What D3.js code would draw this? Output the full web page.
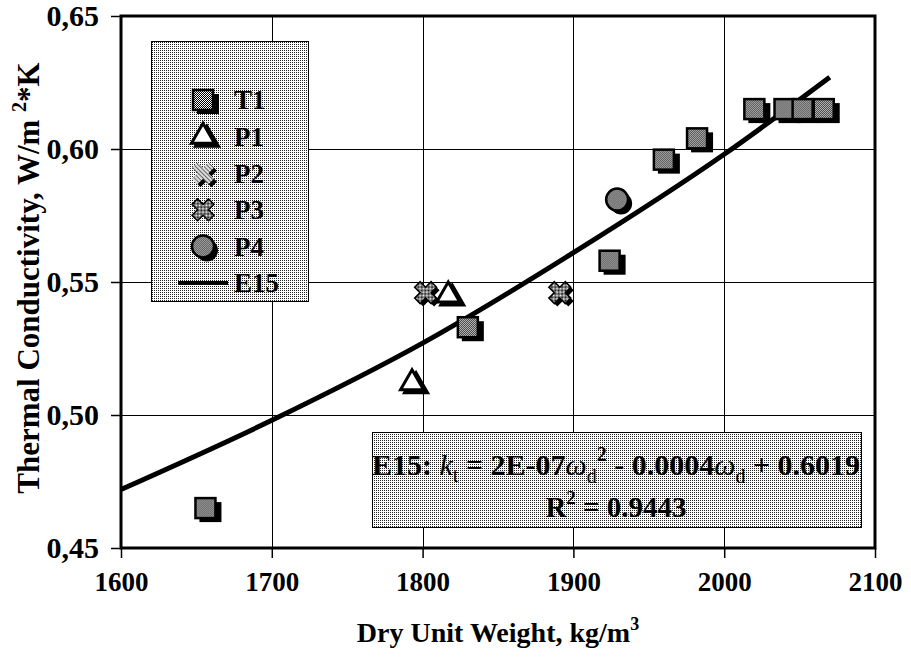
<!DOCTYPE html>
<html>
<head>
<meta charset="utf-8">
<script src="https://cdn.jsdelivr.net/npm/d3@7"></script>
<style>
  body { margin: 0; background: #fff; }
  svg text { font-family: "Liberation Serif", "Times New Roman", serif; font-weight: bold; fill: #000; }
</style>
</head>
<body>
<div id="chart"></div>
<script>
// axis ticks
const xTicks = [1600, 1700, 1800, 1900, 2000, 2100];
const xTickLabels = ['1600', '1700', '1800', '1900', '2000', '2100'];
const yTicks = [0.45, 0.50, 0.55, 0.60, 0.65];
const yTickLabels = ['0,45', '0,50', '0,55', '0,60', '0,65'];

// series
const t1X = [1656, 1830, 1924, 1960, 1982, 2020, 2040, 2052, 2066];
const t1Y = [0.465, 0.533, 0.558, 0.596, 0.604, 0.615, 0.615, 0.615, 0.615];
const p1X = [1793, 1817];
const p1Y = [0.512, 0.545];
const p2X = [1802, 1891];
const p2Y = [0.546, 0.546];
const p3X = [1802, 1891];
const p3Y = [0.546, 0.546];
const p4X = [1929];
const p4Y = [0.581];
const e15X = [1600, 1700, 1800, 1900, 2000, 2070];
const e15Y = [0.472, 0.498, 0.527, 0.561, 0.598, 0.627];
const legendNames = ['T1', 'P1', 'P2', 'P3', 'P4', 'E15'];

const width = 911, height = 657;
const plot = { left: 121, right: 875, top: 16, bottom: 548 };

const svg = d3.select('#chart')
  .append('svg')
  .attr('width', width)
  .attr('height', height);

// patterns
const defs = svg.append('defs');
const dots = defs.append('pattern')
  .attr('id', 'dots').attr('patternUnits', 'userSpaceOnUse')
  .attr('width', 2).attr('height', 2);
dots.append('rect').attr('width', 2).attr('height', 2).attr('fill', '#fff');
dots.append('rect').attr('width', 1).attr('height', 1).attr('fill', '#222');

const checker = defs.append('pattern')
  .attr('id', 'checker').attr('patternUnits', 'userSpaceOnUse')
  .attr('width', 2).attr('height', 2);
checker.append('rect').attr('width', 2).attr('height', 2).attr('fill', '#fff');
checker.append('rect').attr('width', 1).attr('height', 1).attr('fill', '#000');
checker.append('rect').attr('x', 1).attr('y', 1).attr('width', 1).attr('height', 1).attr('fill', '#000');

const hatch = defs.append('pattern')
  .attr('id', 'hatch').attr('patternUnits', 'userSpaceOnUse')
  .attr('width', 2).attr('height', 3);
hatch.append('rect').attr('width', 2).attr('height', 3).attr('fill', '#ddd');
hatch.append('rect').attr('width', 2).attr('height', 1).attr('fill', '#666');

// scales
const x = d3.scaleLinear().domain([1600, 2100]).range([plot.left, plot.right]);
const y = d3.scaleLinear().domain([0.45, 0.65]).range([plot.bottom, plot.top]);

// grid
const grid = svg.append('g').attr('class', 'grid');
grid.selectAll('.vgrid').data(xTicks).enter()
  .append('line')
  .attr('x1', d => Math.round(x(d)) + 0.5).attr('x2', d => Math.round(x(d)) + 0.5)
  .attr('y1', plot.top).attr('y2', plot.bottom)
  .attr('stroke', '#000').attr('stroke-width', 1);
grid.selectAll('.hgrid').data(yTicks).enter()
  .append('line')
  .attr('x1', plot.left).attr('x2', plot.right)
  .attr('y1', d => Math.round(y(d)) + 0.5).attr('y2', d => Math.round(y(d)) + 0.5)
  .attr('stroke', '#000').attr('stroke-width', 1);

// axes
const xAxis = d3.axisBottom(x).tickValues(xTicks).tickSize(10).tickPadding(14)
  .tickFormat((d, i) => xTickLabels[i]);
const yAxis = d3.axisLeft(y).tickValues(yTicks).tickSize(10).tickPadding(12)
  .tickFormat((d, i) => yTickLabels[i]);

const xAxisGroup = svg.append('g')
  .attr('transform', `translate(0,${plot.bottom})`)
  .call(xAxis);
const yAxisGroup = svg.append('g')
  .attr('transform', `translate(${plot.left},0)`)
  .call(yAxis);

[xAxisGroup, yAxisGroup].forEach(g => {
  g.select('.domain').remove();
  g.selectAll('.tick line').attr('stroke', '#000').attr('stroke-width', 1.5);
  g.selectAll('.tick text').attr('fill', '#000');
});
xAxisGroup.selectAll('.tick text').style('font-size', '27px');
yAxisGroup.selectAll('.tick text').style('font-size', '30px');

// frame
svg.append('rect')
  .attr('x', plot.left).attr('y', plot.top)
  .attr('width', plot.right - plot.left).attr('height', plot.bottom - plot.top)
  .attr('fill', 'none').attr('stroke', '#000').attr('stroke-width', 3);

// E15 curve
const line = d3.line()
  .curve(d3.curveMonotoneX)
  .x(d => x(d[0]))
  .y(d => y(d[1]));
svg.append('path')
  .datum(e15X.map((d, i) => [d, e15Y[i]]))
  .attr('fill', 'none')
  .attr('stroke', '#000')
  .attr('stroke-width', 5)
  .attr('d', line);

// markers
const tri = d3.symbol().type(d3.symbolTriangle).size(230)();
const cross = d3.symbol().type(d3.symbolCross).size(300)();

function drawMarker(g, type, cx, cy) {
  const m = g.append('g').attr('transform', `translate(${cx},${cy})`);
  if (type === 'T1') {
    m.append('rect').attr('x', -6).attr('y', -6).attr('width', 22).attr('height', 20).attr('fill', '#000');
    m.append('rect').attr('x', -10).attr('y', -10).attr('width', 20).attr('height', 20)
      .attr('fill', 'url(#checker)').attr('stroke', '#000').attr('stroke-width', 2.5);
  } else if (type === 'P1') {
    m.append('path').attr('d', tri).attr('transform', 'translate(4,3)')
      .attr('fill', '#000').attr('stroke', '#000').attr('stroke-width', 3);
    m.append('path').attr('d', tri)
      .attr('fill', '#fff').attr('stroke', '#000').attr('stroke-width', 3);
  } else if (type === 'P2') {
    m.append('path').attr('d', cross).attr('transform', 'translate(3,3) rotate(45)').attr('fill', '#000');
    m.append('path').attr('d', cross).attr('transform', 'rotate(45)')
      .attr('fill', 'url(#hatch)');
  } else if (type === 'P3') {
    m.append('path').attr('d', cross).attr('transform', 'rotate(45)')
      .attr('fill', 'url(#checker)').attr('stroke', '#000').attr('stroke-width', 1.5);
  } else if (type === 'P4') {
    m.append('circle').attr('cx', 4).attr('cy', 4).attr('r', 11).attr('fill', '#000');
    m.append('circle').attr('r', 11)
      .attr('fill', 'url(#checker)').attr('stroke', '#000').attr('stroke-width', 2.5);
  }
}

const marks = svg.append('g').attr('class', 'marks');
t1X.forEach((d, i) => drawMarker(marks, 'T1', x(d), y(t1Y[i])));
p1X.forEach((d, i) => drawMarker(marks, 'P1', x(d), y(p1Y[i])));
p2X.forEach((d, i) => drawMarker(marks, 'P2', x(d), y(p2Y[i])));
p3X.forEach((d, i) => drawMarker(marks, 'P3', x(d), y(p3Y[i])));
p4X.forEach((d, i) => drawMarker(marks, 'P4', x(d), y(p4Y[i])));

// legend
const legend = svg.append('g').attr('class', 'legend');
legend.append('rect')
  .attr('x', 151.5).attr('y', 41.5).attr('width', 157).attr('height', 260)
  .attr('fill', 'url(#dots)').attr('stroke', '#000').attr('stroke-width', 1);

legendNames.forEach((name, i) => {
  const ly = 100 + i * 36.6;
  if (name === 'E15') {
    legend.append('line')
      .attr('x1', 178).attr('x2', 228).attr('y1', ly).attr('y2', ly)
      .attr('stroke', '#000').attr('stroke-width', 4);
  } else {
    drawMarker(legend, name, 203, ly);
  }
  legend.append('text')
    .attr('x', 234).attr('y', ly).attr('dy', '0.35em')
    .style('font-size', '27px')
    .text(name);
});

// equation box
const eq = svg.append('g').attr('class', 'equation');
eq.append('rect')
  .attr('x', 372.5).attr('y', 432.5).attr('width', 489).attr('height', 95)
  .attr('fill', 'url(#dots)').attr('stroke', '#000').attr('stroke-width', 1);

const eqText = eq.append('text')
  .attr('x', 616).attr('y', 475)
  .attr('text-anchor', 'middle')
  .style('font-size', '30px');
eqText.append('tspan').text('E15: ');
eqText.append('tspan').style('font-style', 'italic').style('font-weight', 'normal').text('k');
eqText.append('tspan').attr('dy', 7).style('font-size', '20px').style('font-weight', 'normal').text('t');
eqText.append('tspan').attr('dy', -7).text(' = 2E-07');
eqText.append('tspan').style('font-style', 'italic').style('font-weight', 'normal').text('ω');
eqText.append('tspan').attr('dy', 8).style('font-size', '20px').style('font-weight', 'normal').text('d');
eqText.append('tspan').attr('dy', -22).style('font-size', '20px').text('2');
eqText.append('tspan').attr('dy', 14).text(' - 0.0004');
eqText.append('tspan').style('font-style', 'italic').style('font-weight', 'normal').text('ω');
eqText.append('tspan').attr('dy', 8).style('font-size', '20px').style('font-weight', 'normal').text('d');
eqText.append('tspan').attr('dy', -8).text(' + 0.6019');

const r2Text = eq.append('text')
  .attr('x', 616).attr('y', 517)
  .attr('text-anchor', 'middle')
  .style('font-size', '29px');
r2Text.append('tspan').text('R');
r2Text.append('tspan').attr('dy', -13).style('font-size', '19px').text('2');
r2Text.append('tspan').attr('dy', 13).text(' = 0.9443');

// axis titles
const xTitle = svg.append('text')
  .attr('x', 498).attr('y', 642)
  .attr('text-anchor', 'middle')
  .style('font-size', '28px');
xTitle.append('tspan').text('Dry Unit Weight, kg/m');
xTitle.append('tspan').attr('dy', -12).style('font-size', '18px').text('3');

const yTitle = svg.append('text')
  .attr('transform', 'translate(39,278) rotate(-90)')
  .attr('text-anchor', 'middle')
  .style('font-size', '31px');
yTitle.append('tspan').text('Thermal Conductivity, W/m ');
yTitle.append('tspan').attr('dy', -13).style('font-size', '20px').text('2');
yTitle.append('tspan').attr('dy', 13).text('*K');
</script>
</body>
</html>
